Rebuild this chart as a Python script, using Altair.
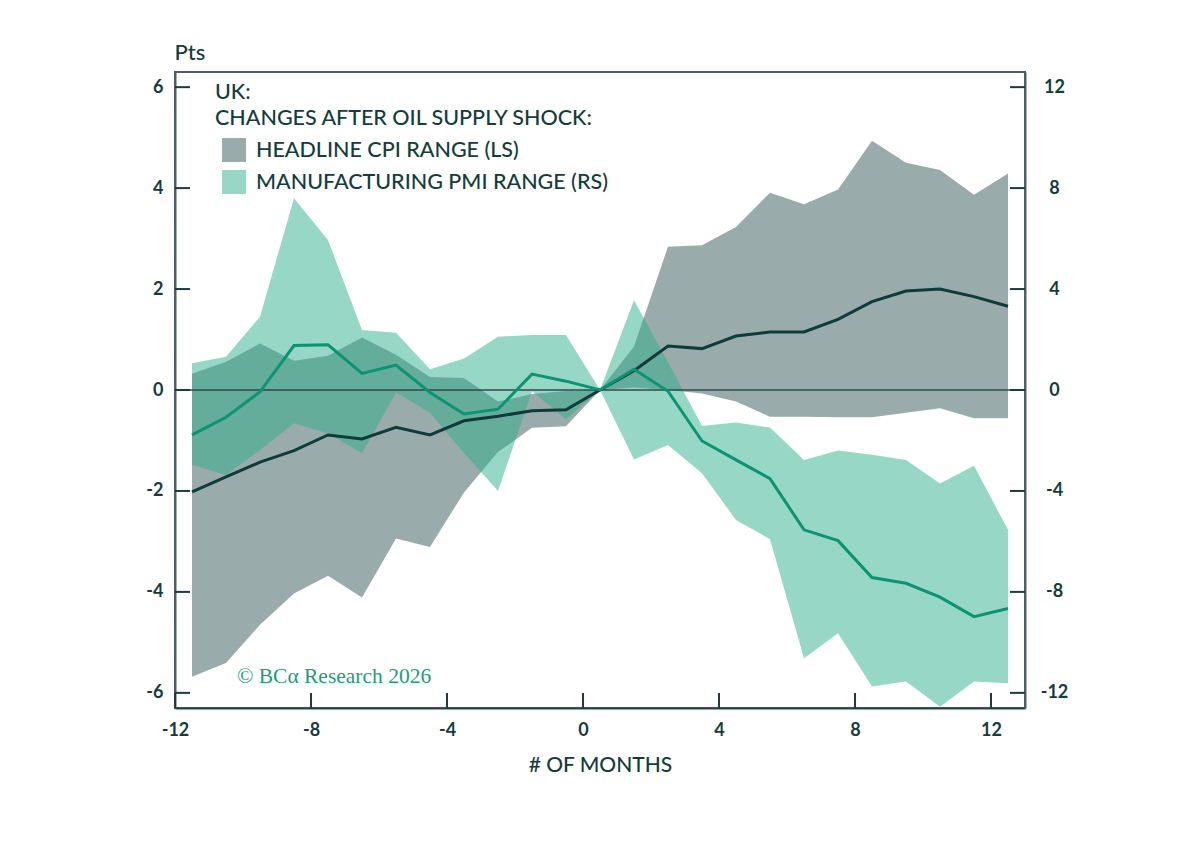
import altair as alt
import pandas as pd

# ---- data ----
months = [-11.5, -10.5, -9.5, -8.5, -7.5, -6.5, -5.5, -4.5, -3.5, -2.5, -1.5, -0.5,
          0.5, 1.5, 2.5, 3.5, 4.5, 5.5, 6.5, 7.5, 8.5, 9.5, 10.5, 11.5, 12.5]

cpi_mid = [-2.02, -1.72, -1.43, -1.20, -0.89, -0.97, -0.74, -0.89, -0.61, -0.52, -0.41, -0.39,
           0.0, 0.38, 0.87, 0.82, 1.07, 1.15, 1.15, 1.40, 1.75, 1.96, 2.00, 1.85, 1.66]
cpi_hi = [0.32, 0.56, 0.92, 0.58, 0.68, 1.04, 0.70, 0.26, 0.24, -0.23, -0.08, -0.02,
          0.0, 0.86, 2.84, 2.87, 3.23, 3.91, 3.68, 3.97, 4.94, 4.50, 4.36, 3.87, 4.29]
cpi_lo = [-5.68, -5.41, -4.65, -4.03, -3.68, -4.11, -2.94, -3.11, -2.03, -1.23, -0.75, -0.72,
          0.0, 0.05, 0.0, -0.07, -0.23, -0.53, -0.53, -0.54, -0.54, -0.45, -0.36, -0.56, -0.56]

pmi_mid = [-1.78, -1.08, -0.07, 1.76, 1.79, 0.66, 0.99, -0.10, -0.95, -0.76, 0.63, 0.35,
           0.0, 0.82, -0.05, -2.02, -2.77, -3.51, -5.54, -5.97, -7.43, -7.66, -8.21, -8.98, -8.66]
pmi_hi = [1.06, 1.32, 2.90, 7.60, 5.94, 2.38, 2.27, 0.82, 1.25, 2.11, 2.18, 2.18,
          0.0, 3.56, 1.10, -1.43, -1.29, -1.49, -2.77, -2.40, -2.57, -2.77, -3.70, -3.00, -5.54]
pmi_lo = [-2.96, -3.37, -2.38, -1.32, -1.72, -2.51, -0.10, -0.90, -2.50, -4.00, -0.05, -1.16,
          0.0, -2.75, -2.18, -3.30, -5.15, -5.91, -10.63, -9.64, -11.75, -11.55, -12.55, -11.55, -11.62]

x_ticks = [-12, -8, -4, 0, 4, 8, 12]
left_ticks = [-6, -4, -2, 0, 2, 4, 6]
right_ticks = [-12, -8, -4, 0, 4, 8, 12]

title_lines = ["UK:", "CHANGES AFTER OIL SUPPLY SHOCK:"]
legend_labels = ["HEADLINE CPI RANGE (LS)", "MANUFACTURING PMI RANGE (RS)"]
watermark = "\u00a9 BC\u03b1 Research 2026"

df = pd.DataFrame({
    "month": months,
    "cpi_mid": cpi_mid, "cpi_hi": cpi_hi, "cpi_lo": cpi_lo,
    "pmi_mid": pmi_mid, "pmi_hi": pmi_hi, "pmi_lo": pmi_lo,
})

# ---- styles ----
W, H = 850, 636
FONT = "Lato"
TXT = "#153c3c"
GRAY = "#9aabab"
GREEN_BAND = "#2fb08c"
CPI_LINE = "#0f3b3b"
PMI_LINE = "#0c9472"
FRAME = "#4d5f66"
LABEL_EXPR = "'' + datum.value"

left_scale = alt.Scale(domain=[-6.3, 6.3], nice=False, zero=False)
right_scale = alt.Scale(domain=[-12.6, 12.6], nice=False, zero=False)
x_scale = alt.Scale(domain=[-12, 13], nice=False, zero=False)

x_axis = alt.Axis(values=x_ticks, title="# OF MONTHS", ticks=False, grid=False,
                  domainColor="#2a4545", domainWidth=2, labelFontSize=18,
                  labelFont=FONT, labelFontWeight=700, labelColor=TXT, labelPadding=13,
                  labelExpr=LABEL_EXPR,
                  titleFont=FONT, titleFontSize=21, titleFontWeight=500, titleColor=TXT,
                  titlePadding=15, labelFlush=False)


def X(field):
    return alt.X(f"{field}:Q", scale=x_scale, axis=x_axis)


left_axis = alt.Axis(orient="left", values=left_ticks, ticks=False, grid=False,
                     domainColor=FRAME, domainWidth=2, labelFontSize=18, labelFont=FONT,
                     labelFontWeight=700, labelColor=TXT, labelPadding=12,
                     labelExpr=LABEL_EXPR,
                     title="Pts", titleAngle=0, titleAlign="left", titleBaseline="middle",
                     titleX=-1, titleY=-20, titleFont=FONT, titleFontSize=22,
                     titleFontWeight=500, titleColor=TXT)
right_axis = alt.Axis(orient="right", values=right_ticks, ticks=False, grid=False,
                      domainColor=FRAME, domainWidth=2, labelFontSize=18, labelFont=FONT,
                      labelFontWeight=700, labelColor=TXT, labelPadding=29,
                      labelExpr=LABEL_EXPR,
                      labelAlign="center", title=None)

cpi_area = alt.Chart(df).mark_area(color=GRAY, opacity=1).encode(
    x=X("month"),
    y=alt.Y("cpi_lo:Q", scale=left_scale, axis=left_axis),
    y2="cpi_hi:Q",
)
pmi_area = alt.Chart(df).mark_area(color=GREEN_BAND, opacity=0.5).encode(
    x=X("month"),
    y=alt.Y("pmi_lo:Q", scale=right_scale, axis=right_axis),
    y2="pmi_hi:Q",
)
zero_rule = alt.Chart(pd.DataFrame({"v": [0]})).mark_rule(color="#2c4b4b", strokeWidth=1.5).encode(
    y=alt.Y("v:Q", scale=left_scale, axis=None),
    x=alt.value(0), x2=alt.value(W),
)
cpi_line = alt.Chart(df).mark_line(color=CPI_LINE, strokeWidth=3).encode(
    x=X("month"),
    y=alt.Y("cpi_mid:Q", scale=left_scale, axis=None),
)
pmi_line = alt.Chart(df).mark_line(color=PMI_LINE, strokeWidth=3).encode(
    x=X("month"),
    y=alt.Y("pmi_mid:Q", scale=right_scale, axis=None),
)

# inward tick marks
lt = alt.Chart(pd.DataFrame({"t": left_ticks})).mark_rule(color="#1e3a3a", strokeWidth=2).encode(
    y=alt.Y("t:Q", scale=left_scale, axis=None), x=alt.value(0), x2=alt.value(15))
rt = alt.Chart(pd.DataFrame({"t": right_ticks})).mark_rule(color="#1e3a3a", strokeWidth=2).encode(
    y=alt.Y("t:Q", scale=right_scale, axis=None), x=alt.value(W - 15), x2=alt.value(W))
xt = alt.Chart(pd.DataFrame({"month": x_ticks})).mark_rule(color="#1e3a3a", strokeWidth=2).encode(
    x=X("month"), y=alt.value(H - 15), y2=alt.value(H))


# title lines & legend
def text_layer(txt, x, y, size=22, color=TXT, font=FONT, weight=500, align="left"):
    return alt.Chart(pd.DataFrame({"label": [txt]})).mark_text(
        align=align, baseline="middle", fontSize=size, font=font, fontWeight=weight, color=color
    ).encode(x=alt.value(x), y=alt.value(y), text="label:N")


t1 = text_layer(title_lines[0], 40, 21, size=21.5)
t2 = text_layer(title_lines[1], 40, 47, size=21.5)
l1 = text_layer(legend_labels[0], 81, 79, size=21.5)
l2 = text_layer(legend_labels[1], 81, 111, size=21.5)
sq1 = alt.Chart(pd.DataFrame({"k": [1]})).mark_rect(color=GRAY).encode(
    x=alt.value(47), x2=alt.value(71), y=alt.value(66), y2=alt.value(90))
sq2 = alt.Chart(pd.DataFrame({"k": [1]})).mark_rect(color=GREEN_BAND, opacity=0.5).encode(
    x=alt.value(47), x2=alt.value(71), y=alt.value(98), y2=alt.value(122))
wm = alt.Chart(pd.DataFrame({"label": [watermark]})).mark_text(
    align="left", baseline="alphabetic", fontSize=21.5, font="Liberation Serif", color="#1f9c78"
).encode(x=alt.value(62), y=alt.value(611), text="label:N")

chart = alt.layer(
    cpi_area, pmi_area, zero_rule, cpi_line, pmi_line, lt, rt, xt,
    t1, t2, l1, l2, sq1, sq2, wm
).resolve_scale(y="independent").resolve_axis(y="independent").properties(
    width=W, height=H,
    padding={"left": 167, "top": 64, "right": 120, "bottom": 100},
    autosize=alt.AutoSizeParams(type="none"),
).configure_view(stroke=FRAME, strokeWidth=2)

chart.save("out.html", embed_options={"renderer": "svg", "actions": False})
